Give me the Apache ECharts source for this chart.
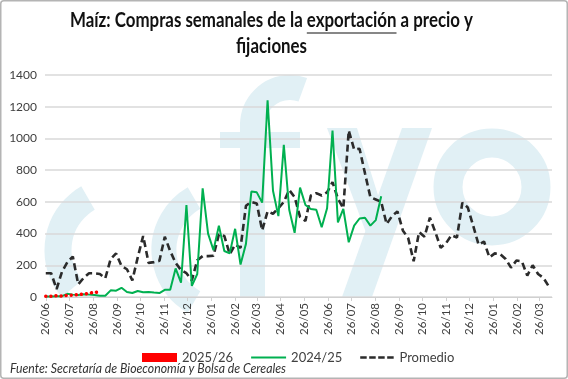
<!DOCTYPE html>
<html><head><meta charset="utf-8">
<script src="https://cdn.jsdelivr.net/npm/echarts@6/dist/echarts.min.js"></script>
<style>html,body{margin:0;padding:0;background:#fff}#c{width:568px;height:379px}</style>
</head><body><div id="c"></div>
<script>
// Weekly series, first week starting 26/06
const startDate = [2024, 6, 26];
const promedio = [150,150,50,160,220,255,80,120,150,150,
  145,118,240,275,195,175,105,250,385,215,
  220,228,380,290,215,170,150,105,232,258,
  258,260,395,385,270,330,310,575,600,590,
  420,540,525,560,600,675,630,505,480,640,
  655,640,660,725,620,560,1050,930,935,780,
  630,615,600,460,510,540,420,370,225,410,
  380,500,410,310,340,390,375,595,565,450,
  330,350,250,275,270,240,185,230,225,135,
  200,145,120,65];
const camp2425 = [3,3,5,5,20,15,12,18,15,12,
  8,8,42,40,58,32,25,38,30,32,
  28,25,45,45,180,90,580,70,145,685,
  400,295,450,290,275,430,205,335,665,660,
  595,1240,670,510,960,550,405,690,580,555,
  550,440,560,1050,470,555,345,450,495,500,
  450,485,635];
const camp2526 = [5,5,8,6,10,12,15,18,22,32,27];
const tickDates = ['2024-06-26','2024-07-26','2024-08-26','2024-09-26','2024-10-26','2024-11-26','2024-12-26',
  '2025-01-26','2025-02-26','2025-03-26','2025-04-26','2025-05-26','2025-06-26','2025-07-26','2025-08-26',
  '2025-09-26','2025-10-26','2025-11-26','2025-12-26','2026-01-26','2026-02-26','2026-03-26'];
const yTicks = [0,200,400,600,800,1000,1200,1400];
const seriesNames = ['2025/26','2024/25','Promedio'];
const titleParts = ['Maíz: Compras semanales de la ','exportación',' a precio y'];
const titleLine2 = 'fijaciones';
const sourceText = 'Fuente: Secretaría de Bioeconomía y Bolsa de Cereales';

const DAY = 86400000;
const t0 = Date.UTC(startDate[0],startDate[1]-1,startDate[2]);
function toPairs(arr){return arr.map((v,i)=>[7*i,v]);}
const tickDays = tickDates.map(s=>{const p=s.split('-').map(Number);return Math.round((Date.UTC(p[0],p[1]-1,p[2])-t0)/DAY);});
function dayLabel(v){const d=new Date(t0+Math.round(v)*DAY);return String(d.getUTCDate()).padStart(2,'0')+'/'+String(d.getUTCMonth()+1).padStart(2,'0');}

const fam = "Lato, 'Open Sans', sans-serif";
const mctx = document.createElement('canvas').getContext('2d');
function measure(t,font){mctx.font=font;return mctx.measureText(t).width;}
const tFont = 'bold 20px Lato';
const w1 = measure(titleParts[0],tFont), w2 = measure(titleParts[1],tFont), w3 = measure(titleParts[2],tFont);
const tScale = 403/(w1+w2+w3);
const tLeft = 70;
const w2line = measure(titleLine2,tFont)*tScale;
const sFont = 'italic 13px Lato';
const sScale = 276/measure(sourceText,sFont);

const wm = '#e1f0f5';
const titleStyle = {fontSize:20,fontWeight:'bold',fontFamily:fam,fill:'#111',verticalAlign:'middle'};
const chart = echarts.init(document.getElementById('c'),null,{renderer:'canvas'});
chart.setOption({
  animation:false,
  backgroundColor:'#ffffff',
  graphic:[
    {type:'rect',z:100,shape:{x:0.75,y:0.75,width:566.5,height:377.5,r:3},style:{fill:'none',stroke:'#b4b4b4',lineWidth:1.5}},
    {type:'arc',z:-10,shape:{cx:118,cy:250,r:60,startAngle:Math.PI*140/180,endAngle:Math.PI*240/180,clockwise:true},style:{stroke:wm,lineWidth:27,fill:'none'}},
    {type:'arc',z:-10,shape:{cx:224,cy:250,r:60,startAngle:Math.PI*120/180,endAngle:Math.PI*240/180,clockwise:true},style:{stroke:wm,lineWidth:25,fill:'none'}},
    {type:'rect',z:-10,shape:{x:240,y:122,width:25,height:175},style:{fill:wm}},
    {type:'rect',z:-10,shape:{x:220,y:132,width:80,height:16},style:{fill:wm}},
    {type:'arc',z:-10,shape:{cx:290,cy:125,r:37.5,startAngle:Math.PI,endAngle:Math.PI*290/180,clockwise:true},style:{stroke:wm,lineWidth:25,fill:'none'}},
    {type:'polygon',z:-10,shape:{points:[[327,128],[357,128],[392,240],[377,262]]},style:{fill:wm}},
    {type:'polygon',z:-10,shape:{points:[[402,128],[432,128],[372,297],[342,297]]},style:{fill:wm}},
    {type:'circle',z:-10,shape:{cx:492,cy:187,r:44},style:{stroke:wm,lineWidth:29,fill:'none'}},
    {type:'text',x:tLeft,y:21,scaleX:tScale,style:Object.assign({text:titleParts.join('')},titleStyle)},
    {type:'text',x:271.5-w2line/2,y:47,scaleX:tScale,style:Object.assign({text:titleLine2},titleStyle)},
    {type:'line',shape:{x1:tLeft+w1*tScale,y1:33,x2:tLeft+(w1+w2)*tScale,y2:33},style:{stroke:'#111',lineWidth:1.2}},
    {type:'text',x:10,y:369,scaleX:sScale,style:{text:sourceText,fontSize:13,fontStyle:'italic',fontFamily:fam,fill:'#333',verticalAlign:'middle'}}
  ],
  grid:{left:45,right:16,top:75,bottom:82,containLabel:false},
  legend:{left:137,top:346,itemGap:18,itemWidth:35,itemHeight:9,
    textStyle:{fontSize:13,color:'#404040',fontFamily:fam},
    itemStyle:{borderWidth:0},
    data:[
      {name:seriesNames[0],icon:'rect'},
      {name:seriesNames[1],icon:'path://M0,0L0.01,0L0.01,0.01Z M0,3.6L35,3.6L35,5.4L0,5.4Z M0,9L0.01,9L0.01,9.01Z'},
      {name:seriesNames[2],icon:'path://M0,0L0.01,0L0.01,0.01Z M0,3.3L6.5,3.3L6.5,5.7L0,5.7Z M9,3.3L15.5,3.3L15.5,5.7L9,5.7Z M18,3.3L24.5,3.3L24.5,5.7L18,5.7Z M27,3.3L33.5,3.3L33.5,5.7L27,5.7Z M0,9L0.01,9L0.01,9.01Z'}
    ]},
  xAxis:{type:'value',min:-1,max:655,
    axisLine:{show:true,lineStyle:{color:'#d0d0d0',width:1}},
    axisTick:{show:true,customValues:tickDays,length:4,lineStyle:{color:'#d0d0d0'}},
    axisLabel:{customValues:tickDays,rotate:90,margin:6,fontSize:11.5,color:'#404040',fontFamily:fam,formatter:dayLabel},
    splitLine:{show:false}},
  yAxis:{type:'value',min:yTicks[0],max:yTicks[yTicks.length-1],interval:200,
    axisLine:{show:false},axisTick:{show:false},
    axisLabel:{fontSize:12,color:'#404040',margin:8,fontFamily:fam,formatter:v=>String(v)},
    splitLine:{lineStyle:{color:'#d9d9d9',width:1.5}}},
  series:[
    {name:seriesNames[0],type:'line',data:toPairs(camp2526),symbol:'none',z:5,
      itemStyle:{color:'#ff0000'},lineStyle:{color:'#ff0000',width:3.5,type:[0.1,5],cap:'round'}},
    {name:seriesNames[1],type:'line',data:toPairs(camp2425),symbol:'none',z:4,
      itemStyle:{color:'#00b050'},lineStyle:{color:'#00b050',width:2}},
    {name:seriesNames[2],type:'line',data:toPairs(promedio),symbol:'none',z:3,
      itemStyle:{color:'#2b2b2b'},lineStyle:{color:'#2b2b2b',width:2.6,type:[7,4]}}
  ]
});
</script></body></html>
